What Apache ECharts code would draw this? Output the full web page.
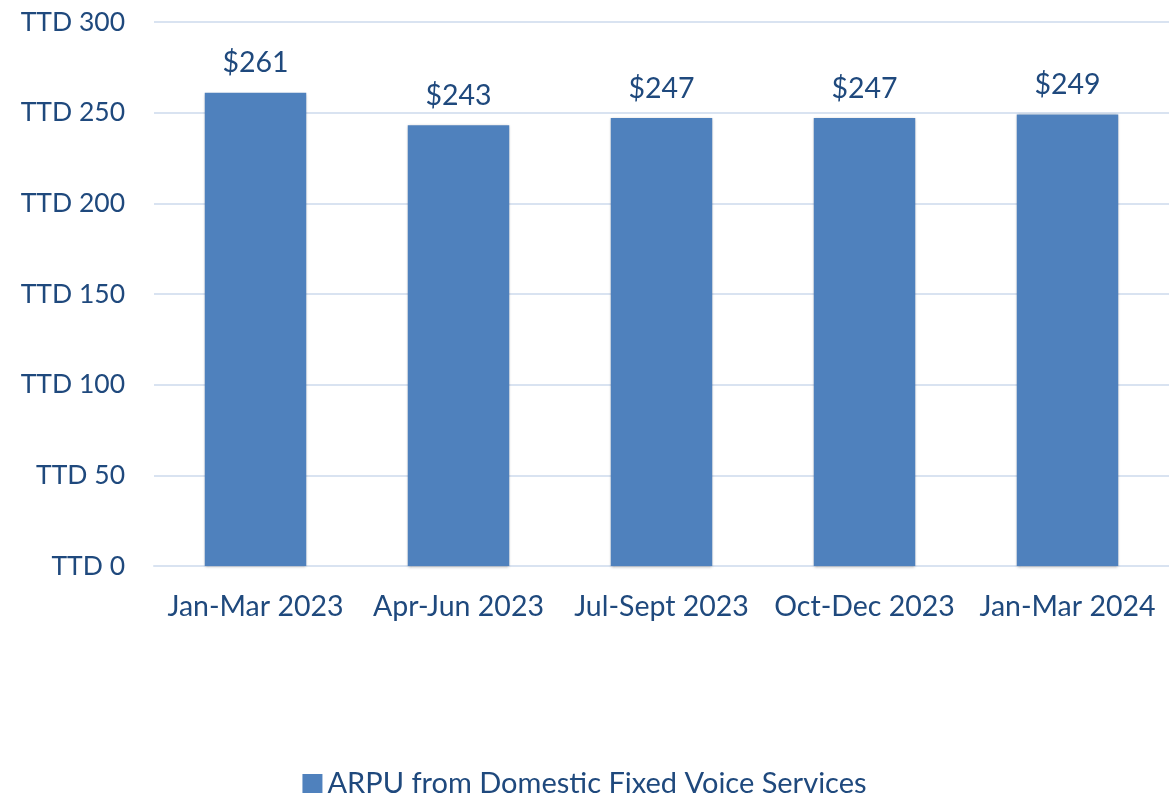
<!DOCTYPE html>
<html><head><meta charset="utf-8">
<script src="https://cdn.jsdelivr.net/npm/echarts@6/dist/echarts.min.js"></script>
<style>html,body{margin:0;padding:0;background:#fff}#c{width:1169px;height:797px}</style>
</head><body><div id="c"></div>
<script>
const categories = ["Jan-Mar 2023", "Apr-Jun 2023", "Jul-Sept 2023", "Oct-Dec 2023", "Jan-Mar 2024"];
const arpuValues = [261, 243, 247, 247, 249];
const seriesName = "ARPU from Domestic Fixed Voice Services";
const textColor = "#1F497D";
const font = "Lato, 'Open Sans', sans-serif";
const chart = echarts.init(document.getElementById('c'));
chart.setOption({
  animation: false,
  textStyle: { fontFamily: font },
  grid: { left: 154, width: 1024, top: 22, bottom: 231, containLabel: false },
  legend: {
    top: 764, left: 'center', itemWidth: 20, itemHeight: 19, itemGap: 8,
    icon: 'rect',
    textStyle: { color: textColor, fontSize: 29, fontFamily: font },
    data: [seriesName]
  },
  xAxis: {
    type: 'category', data: categories,
    axisLine: { show: true, lineStyle: { color: '#D9E3F1', width: 2 } },
    axisTick: { show: false },
    axisLabel: { color: textColor, fontSize: 28.5, margin: 26, interval: 0, fontFamily: font }
  },
  yAxis: {
    type: 'value', min: 0, max: 300, interval: 50,
    axisLine: { show: false }, axisTick: { show: false },
    splitLine: { lineStyle: { color: '#D9E3F1', width: 2 } },
    axisLabel: { color: textColor, fontSize: 26.5, margin: 29, fontFamily: font, formatter: v => 'TTD ' + v }
  },
  series: [{
    name: seriesName, type: 'bar', data: arpuValues, barWidth: '50%',
    itemStyle: { color: '#4F81BD', shadowColor: 'rgba(0,0,0,0.3)', shadowBlur: 3, shadowOffsetY: 1 },
    label: { show: true, position: 'top', distance: 15, color: textColor, fontSize: 28.5, fontFamily: font, formatter: p => '$' + p.value }
  }]
});
</script></body></html>
